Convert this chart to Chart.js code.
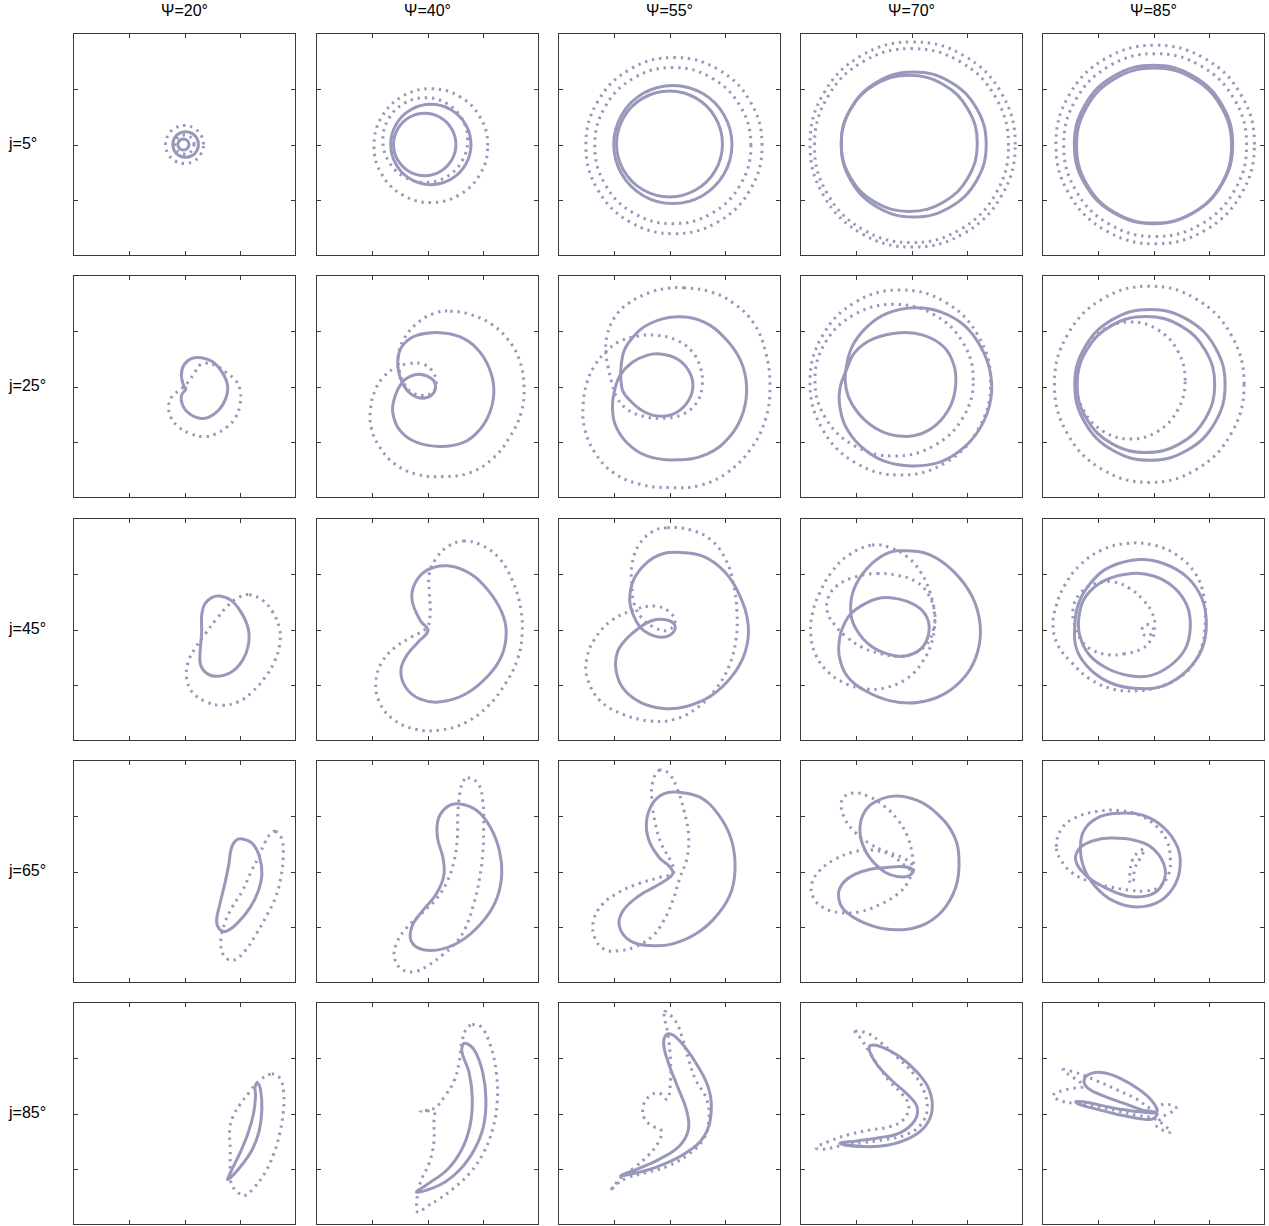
<!DOCTYPE html>
<html>
<head>
<meta charset="utf-8">
<script src="https://cdn.jsdelivr.net/npm/chart.js@4.4.1/dist/chart.umd.min.js"></script>
<style>
    body { margin: 0; background: #fff; font-family: "Liberation Sans", Arial, sans-serif; }
    #page { position: relative; width: 1269px; height: 1226px; }
    .panel { position: absolute; width: 223px; height: 223px; }
    .col-title { position: absolute; top: 1px; width: 223px; text-align: center; font-size: 16px; line-height: 20px; color: #000; }
    .row-title { position: absolute; left: 9px; font-size: 16px; line-height: 20px; color: #000; }
</style>
</head>
<body>
<div id="page"></div>
<script>
// column / row labels and axis ticks (no tick labels in the figure)
const PSI_LABELS = ['Ψ=20°', 'Ψ=40°', 'Ψ=55°', 'Ψ=70°', 'Ψ=85°'];
const J_LABELS = ['j=5°', 'j=25°', 'j=45°', 'j=65°', 'j=85°'];
const TICKS = [-50, 0, 50];

// ---- j = 5 deg ----
const j5p20_s1 = [[12.5,0],[11,5.8],[6.8,10],[1,11.5],[-4.8,10],[-9,5.8],[-10.5,0],[-9,-5.8],[-4.8,-10],[1,-11.5],[6.8,-10],[11,-5.8]];
const j5p20_s2 = [[4,0],[3.3,2.5],[1.5,4.3],[-1,5],[-3.5,4.3],[-5.3,2.5],[-6,0],[-5.3,-2.5],[-3.5,-4.3],[-1,-5],[1.5,-4.3],[3.3,-2.5]];
const j5p20_d1 = [[17,0],[14.7,8.5],[8.5,14.7],[0,17],[-8.5,14.7],[-14.7,8.5],[-17,0],[-14.7,-8.5],[-8.5,-14.7],[0,-17],[8.5,-14.7],[14.7,-8.5]];
const j5p20_d2 = [[8.5,0],[7.4,4.3],[4.3,7.4],[0,8.5],[-4.3,7.4],[-7.4,4.3],[-8.5,0],[-7.4,-4.3],[-4.3,-7.4],[0,-8.5],[4.3,-7.4],[7.4,-4.3]];

const j5p40_s1 = [[39,0],[34.2,18],[21,31.2],[3,36],[-15,31.2],[-28.2,18],[-33,0],[-28.2,-18],[-15,-31.2],[3,-36],[21,-31.2],[34.2,-18]];
const j5p40_s2 = [[25.5,0],[21.7,14],[11.5,24.2],[-2.5,28],[-16.5,24.2],[-26.7,14],[-30.5,0],[-26.7,-14],[-16.5,-24.2],[-2.5,-28],[11.5,-24.2],[21.7,-14]];
const j5p40_d1 = [[54,-1],[47.2,24.5],[28.5,43.2],[3,50],[-22.5,43.2],[-41.2,24.5],[-48,-1],[-41.2,-26.5],[-22.5,-45.2],[3,-52],[28.5,-45.2],[47.2,-26.5]];
const j5p40_d2 = [[36,4],[30.9,23],[17,36.9],[-2,42],[-21,36.9],[-34.9,23],[-40,4],[-34.9,-15],[-21,-28.9],[-2,-34],[17,-28.9],[30.9,-15]];

const j5p55_s1 = [[56,0],[48.9,26.5],[29.5,45.9],[3,53],[-23.5,45.9],[-42.9,26.5],[-50,0],[-42.9,-26.5],[-23.5,-45.9],[3,-53],[29.5,-45.9],[48.9,-26.5]];
const j5p55_s2 = [[47.5,0.5],[41.1,24.3],[23.8,41.6],[0,48],[-23.8,41.6],[-41.1,24.3],[-47.5,0.5],[-41.1,-23.3],[-23.8,-40.6],[0,-47],[23.8,-40.6],[41.1,-23.3]];
const j5p55_d1 = [[83,-1],[72.4,38.5],[43.5,67.4],[4,78],[-35.5,67.4],[-64.4,38.5],[-75,-1],[-64.4,-40.5],[-35.5,-69.4],[4,-80],[43.5,-69.4],[72.4,-40.5]];
const j5p55_d2 = [[73,-1],[63.6,34],[38,59.6],[3,69],[-32,59.6],[-57.6,34],[-67,-1],[-57.6,-36],[-32,-61.6],[3,-71],[38,-61.6],[63.6,-36]];

const j5p70_s1 = [[67,0],[58.3,32.5],[34.5,56.3],[2,65],[-30.5,56.3],[-54.3,32.5],[-63,0],[-54.3,-32.5],[-30.5,-56.3],[2,-65],[34.5,-56.3],[58.3,-32.5]];
const j5p70_s2 = [[59,1],[50.8,31.5],[28.5,53.8],[-2,62],[-32.5,53.8],[-54.8,31.5],[-63,1],[-54.8,-29.5],[-32.5,-51.8],[-2,-60],[28.5,-51.8],[50.8,-29.5]];
const j5p70_d1 = [[93,0],[80.7,46],[47,79.7],[1,92],[-45,79.7],[-78.7,46],[-91,0],[-78.7,-46],[-45,-79.7],[1,-92],[47,-79.7],[80.7,-46]];
const j5p70_d2 = [[87,-1],[75.3,42.5],[43.5,74.3],[0,86],[-43.5,74.3],[-75.3,42.5],[-87,-1],[-75.3,-44.5],[-43.5,-76.3],[0,-88],[43.5,-76.3],[75.3,-44.5]];

const j5p85_s1 = [[71,0],[61.5,35.5],[35.5,61.5],[0,71],[-35.5,61.5],[-61.5,35.5],[-71,0],[-61.5,-35.5],[-35.5,-61.5],[0,-71],[35.5,-61.5],[61.5,-35.5]];
const j5p85_s2 = [[70,-1],[60.7,33.8],[35.3,59.2],[0.5,68.5],[-34.3,59.2],[-59.7,33.8],[-69,-1],[-59.7,-35.8],[-34.3,-61.2],[0.5,-70.5],[35.3,-61.2],[60.7,-35.8]];
const j5p85_d1 = [[90.5,0],[78.6,44.5],[46,77.1],[1.5,89],[-43,77.1],[-75.6,44.5],[-87.5,0],[-75.6,-44.5],[-43,-77.1],[1.5,-89],[46,-77.1],[78.6,-44.5]];
const j5p85_d2 = [[83.5,-0.5],[72.5,40.5],[42.5,70.5],[1.5,81.5],[-39.5,70.5],[-69.5,40.5],[-80.5,-0.5],[-69.5,-41.5],[-39.5,-71.5],[1.5,-82.5],[42.5,-71.5],[72.5,-41.5]];

// ---- j = 25 deg ----
const j25p20_s1 = [[-0.8,0.9],[-2.8,9.9],[-0.8,18.9],[6.1,24.9],[15.4,25.8],[25.6,21.9],[33.7,12.9],[38.6,0.9],[36.9,-11.1],[30.4,-21.6],[21.5,-27.6],[13.4,-28.5],[4.5,-24.6],[-1.6,-17.1],[-2.8,-8.1],[1.2,-2.1]];
const j25p20_d1 = [[18.7,21],[28.8,18.3],[37.7,12.3],[45.9,5.4],[49.9,-3.6],[49.9,-15.6],[45.9,-27.6],[37.7,-36.6],[27.6,-42.6],[17.5,-45],[6.1,-42.6],[-4.9,-36.6],[-12.2,-27.6],[-14.2,-17.1],[-11,-8.7],[-2.8,-2.1],[3.2,3.9],[9.3,12.9],[13.4,18.9]];

const j25p40_s1 = [[11.4,48.3],[29.4,44.4],[44.4,33.9],[55,17.4],[59.5,-2.1],[56.5,-21.6],[47.4,-38.1],[32.4,-50.2],[11.4,-53.8],[-9.6,-50.2],[-24.6,-39.6],[-31.2,-23.1],[-29.1,-8.7],[-23.1,3.3],[-15.6,9],[-6,10.8],[3.9,6.9],[7.2,0],[3.9,-7.5],[-5.1,-10.5],[-15,-6.6],[-22.2,2.4],[-26.1,14.4],[-26.1,27.9],[-21,38.4],[-9.6,45.9]];
const j25p40_d1 = [[20.4,67.6],[38.4,64.6],[56.5,56.5],[71.5,42.9],[82,24.9],[86.5,0.9],[84.1,-23.1],[74.5,-44.1],[59.5,-63.7],[38.4,-77.2],[14.4,-80.8],[-9.6,-78.7],[-29.1,-69.7],[-42.6,-54.7],[-50.2,-38.1],[-51.1,-20.1],[-47.1,-3.6],[-39.6,8.4],[-29.1,16.5],[-17.1,20.4],[-5.1,20.4],[3.9,14.4],[7.8,3.9],[5.4,-4.5],[-3.6,-8.1],[-14.1,-5.1],[-21,2.4],[-25.2,14.4],[-26.1,27.9],[-21,42.9],[-9.6,56.5],[5.4,65.5]];

const j25p55_s1 = [[-42,27.9],[-33.9,42.9],[-17.4,56.5],[7.2,62.5],[30.6,58],[50.2,42.9],[63.7,23.4],[69.1,0.9],[66.1,-23.1],[54.7,-44.1],[33.6,-60.7],[6,-65.8],[-20.4,-62.2],[-38.4,-50.2],[-48.9,-33.6],[-51.1,-17.1],[-48.9,-2.1],[-44.4,9.9],[-33.9,21.3],[-20.4,27.9],[-8.4,29.1],[6.6,24.9],[17.1,14.4],[21,0.9],[17.1,-12.6],[6.6,-23.1],[-6.9,-26.7],[-21.9,-23.1],[-35.4,-12.6],[-42.9,-0.6]];
const j25p55_d1 = [[12.6,88.6],[36.6,85],[57.7,74.5],[75.7,56.5],[86.2,30.9],[90.1,0.9],[86.2,-29.1],[72.7,-56.2],[51.7,-77.2],[27.6,-88.6],[0.6,-90.7],[-26.4,-87.7],[-50.5,-77.2],[-67,-59.2],[-76,-38.1],[-77.5,-17.1],[-73.9,3.9],[-67,18.9],[-57.9,30.3],[-45.9,39.9],[-29.4,45],[-11.4,45.9],[6.6,41.4],[20.1,31.5],[27.6,17.4],[29.4,0.9],[24.6,-14.1],[12.6,-24.6],[-5.4,-28.5],[-23.4,-26.7],[-38.4,-20.1],[-47.4,-9.6],[-51.9,3.9],[-55,17.4],[-57.1,30.9],[-55.9,45.9],[-48.9,62.5],[-36.9,74.5],[-17.4,84.4],[-2.4,88]];

const j25p70_s1 = [[-59.2,12.9],[-53.5,35.4],[-39.9,53.5],[-21.9,65.5],[2.1,70.6],[26.1,67],[47.1,55],[62.2,35.4],[70.6,12.9],[71.2,-11.1],[62.8,-35.1],[47.1,-54.7],[26.1,-67.6],[0.6,-71.2],[-24.9,-66.7],[-45.9,-53.2],[-59.5,-35.1],[-64.6,-15.6],[-64,-0.6],[-59.2,12.9],[-50.5,30.9],[-33.9,42.9],[-9.9,48.3],[11.1,45.9],[29.1,35.4],[38.1,18.9],[39.6,0.9],[35.1,-17.1],[23.1,-33.6],[8.1,-42.6],[-6.9,-44.7],[-24.9,-41.1],[-41.4,-30.6],[-53.5,-15.6],[-58.6,-2.1]];
const j25p70_d1 = [[71,3.6],[60.1,45.1],[30.5,75.5],[-10,86.6],[-50.5,75.5],[-80.1,45.1],[-91,3.6],[-80.1,-37.9],[-50.5,-68.3],[-10,-79.4],[30.5,-68.3],[60.1,-37.9]];
const j25p70_d2 = [[55.4,5.7],[45.9,39.7],[19.9,64.6],[-15.6,73.7],[-51.1,64.6],[-77.1,39.7],[-86.6,5.7],[-77.1,-28.3],[-51.1,-53.2],[-15.6,-62.3],[19.9,-53.2],[45.9,-28.3]];

const j25p85_s1 = [[64.2,1.5],[55.2,35.3],[30.5,60],[-3.2,69.1],[-36.9,60],[-61.6,35.3],[-70.6,1.5],[-61.6,-32.3],[-36.9,-57],[-3.2,-66.1],[30.5,-57],[55.2,-32.3]];
const j25p85_s2 = [[54.9,1.8],[46.6,32.3],[24.1,54.6],[-6.8,62.8],[-37.7,54.6],[-60.2,32.3],[-68.5,1.8],[-60.2,-28.7],[-37.7,-51],[-6.8,-59.2],[24.1,-51],[46.6,-28.7]];
const j25p85_d1 = [[81.2,2],[69.8,46],[38.7,78.2],[-3.8,90],[-46.3,78.2],[-77.4,46],[-88.8,2],[-77.4,-42],[-46.3,-74.2],[-3.8,-86],[38.7,-74.2],[69.8,-42]];
const j25p85_d2 = [[28.4,5.4],[21.8,31.7],[3.9,50.9],[-20.6,57.9],[-45.1,50.9],[-63,31.7],[-69.6,5.4],[-63,-20.9],[-45.1,-40.1],[-20.6,-47.1],[3.9,-40.1],[21.8,-20.9]];

// ---- j = 45 deg ----
const j45p20_s1 = [[31.7,30],[41.8,26.1],[50.7,15.6],[57.2,0.6],[57.2,-14.4],[51.9,-27.9],[41.8,-38.4],[28.8,-42],[19.5,-39],[14.2,-30.9],[14.2,-17.4],[15.4,-2.4],[15.4,12.6],[18.3,23.1],[24.8,28.8]];
const j45p20_d1 = [[58,31.2],[70.2,26.1],[79.1,15.6],[85.2,0.6],[85.2,-14.4],[80.4,-29.4],[72.2,-42.9],[60.1,-56.5],[47.9,-64.9],[33.7,-67.9],[19.5,-64.9],[7.3,-56.5],[2,-44.4],[3.2,-29.4],[10.1,-15.9],[18.7,-3.9],[28.8,9.6],[39.8,22.2],[49.1,29.1]];

const j45p40_s1 = [[17.9,57.1],[38.1,50.2],[54.4,35.1],[66.6,15.6],[70.6,-2.4],[66.6,-23.4],[54.4,-41.4],[34.1,-57.9],[11.8,-64.9],[-6.5,-62.5],[-19.5,-52],[-23.9,-36.9],[-18.7,-23.4],[-8.5,-11.4],[0.4,-0.9],[-6.5,8.1],[-13.8,26.1],[-11.4,41.1],[-0.4,53.2]];
const j45p40_d1 = [[32.1,79.3],[48.3,75.7],[64.5,63.7],[76.7,42.6],[83.6,18.6],[84.8,-5.4],[80.8,-26.4],[70.6,-47.4],[54.4,-68.5],[34.1,-83.5],[11.8,-90.1],[-10.6,-89.5],[-30.8,-80.5],[-43,-65.5],[-46.3,-47.4],[-41,-29.4],[-28.8,-15.9],[-14.6,-6.9],[-0.4,2.1],[2.4,15.6],[1.6,33.6],[1.6,50.2],[7.7,63.7],[17.9,74.2]];

const j45p55_s1 = [[10.1,69.1],[31.3,65.2],[49.5,51.7],[62.9,30.6],[70.6,3.6],[67.8,-20.4],[56.4,-41.4],[37.3,-59.5],[15,-69.1],[-5.3,-70.9],[-25.6,-65.5],[-41,-53.5],[-47.9,-36.9],[-46.7,-20.4],[-38.6,-8.4],[-27.6,1.2],[-15.4,8.1],[-3.2,8.7],[4.9,3.6],[2,-3.9],[-7.3,-6.9],[-18.3,-3.9],[-26.4,2.1],[-32.9,14.1],[-35.7,27.6],[-31.7,45.6],[-19.5,60.7],[-5.3,68.2]];
const j45p55_d1 = [[-2,91.3],[19.1,89.2],[37.3,80.2],[50.7,62.2],[57.6,39.6],[60.5,15.6],[59.7,-8.4],[53.6,-32.4],[41.4,-53.5],[25.2,-70],[4.9,-80.5],[-17.5,-82],[-41.8,-76],[-62.1,-64],[-73.5,-44.4],[-74.3,-26.4],[-67,-8.4],[-51.9,8.1],[-30.4,18],[-13.4,21],[-0.4,16.2],[4.9,6.6],[-2,-0.9],[-14.2,2.1],[-24.8,10.2],[-31.7,23.1],[-33.7,39.6],[-33.7,57.7],[-27.6,75.7],[-15.4,87.7]];

const j45p70_s1 = [[-54.4,14.1],[-52,35.1],[-39.9,54.7],[-21.9,68.2],[-3.9,70.6],[17.1,66.7],[38.1,51.7],[54.7,29.1],[61.6,3.6],[59.2,-20.4],[48.6,-41.4],[29.1,-58],[5.1,-65.5],[-18.9,-64],[-41.4,-55],[-58,-41.4],[-64.9,-23.4],[-64,-5.4],[-59.5,6.6],[-54.4,14.1],[-44.4,21.6],[-30.9,27.6],[-18.9,28.5],[-3.9,25.2],[9.6,17.1],[15.6,5.1],[14.1,-8.4],[6.6,-18.9],[-6.9,-24],[-21.9,-21.9],[-36.9,-14.4],[-48.9,-0.9]];
const j45p70_d1 = [[-35.4,75.7],[-18.9,73.3],[-3.9,65.2],[8.1,51.7],[16.5,33.6],[20.7,12.6],[18.6,-9.9],[9.6,-29.4],[-3.9,-43.8],[-21.9,-52],[-39.9,-53.5],[-58,-48.9],[-74.5,-38.4],[-85.6,-23.4],[-90.4,-3.9],[-88.6,15.6],[-82,33.6],[-71.5,51.7],[-56.5,66.7]];
const j45p70_d2 = [[-30.9,50.2],[-12.9,48.6],[3.6,43.2],[14.7,32.1],[20.7,15.6],[19.5,-0.9],[12.6,-14.4],[0.6,-21.9],[-12.9,-24],[-29.4,-21.3],[-44.4,-15.9],[-58,-6.9],[-68.5,3.6],[-75.4,15.6],[-74.5,29.1],[-65.5,40.2],[-50.5,47.1]];

const j45p85_s1 = [[-12.6,62.8],[9,59.2],[30,47.1],[43.5,27.6],[47.4,5.1],[43.5,-17.4],[30,-36.9],[9,-50.5],[-13.5,-52.9],[-36,-48.9],[-55.6,-36.9],[-68.5,-18.9],[-70.6,3.6],[-66.7,24.6],[-55.6,42.6],[-39,56.2]];
const j45p85_s2 = [[-19.5,50.2],[0,48],[18,38.1],[30,21.6],[33,2.1],[28.5,-17.4],[15,-32.4],[-3,-41.4],[-21,-41.4],[-40.5,-35.4],[-57.1,-23.4],[-66.1,-5.4],[-66.7,12.6],[-60.1,30.6],[-43.5,44.1]];
const j45p85_d1 = [[-24,77.2],[0,75.7],[21,66.7],[37.5,50.2],[45,30.6],[46.5,9.6],[43.5,-14.4],[34.5,-32.4],[21,-44.4],[3,-52],[-15,-55],[-36,-53.5],[-57.1,-44.4],[-73.6,-29.4],[-85.6,-14.4],[-90.1,3.6],[-87.1,21.6],[-79.6,39.6],[-66.1,57.7],[-46.5,71.2]];
const j45p85_d2 = [[-27,-21.9],[-10.5,-17.4],[-1.5,-8.4],[0.5,-2],[-3,4],[-9,3],[-10,-3],[-5,-6],[0,-1],[1.5,3.6],[-1.5,15.6],[-9,26.1],[-21,36.6],[-36,42.6],[-52.6,41.1],[-66.1,32.1],[-72.1,18.6],[-70.6,3.6],[-64.6,-9.9],[-54.1,-18.9],[-39,-22.8]];

// ---- j = 65 deg ----
const j65p20_s1 = [[51.9,29.1],[61.3,24.6],[67.4,12.6],[69.4,-2.4],[66.2,-17.4],[58.8,-32.4],[47.9,-45.9],[37.7,-53.5],[31.7,-52],[28.8,-44.4],[31.7,-29.4],[35.7,-12.9],[39.8,6.6],[41.8,20.1],[45.9,27.6]];
const j65p20_d1 = [[81.6,36],[87.3,29.1],[88.5,12.6],[86.4,-5.4],[81.6,-23.4],[74.3,-38.4],[64.1,-56.5],[54,-71.5],[43.8,-79.6],[35.7,-76],[32.5,-64],[35.7,-47.4],[42.6,-32.4],[51.9,-17.4],[60.1,0.6],[66.2,12.6],[72.2,26.1],[77.5,34.2]];

const j65p40_s1 = [[28,60.7],[44.2,54.7],[56.4,39.6],[64.5,18.6],[66.6,-2.4],[62.5,-23.4],[52.4,-41.4],[34.1,-59.5],[13.8,-69.4],[-4.5,-70],[-14.6,-62.5],[-13.8,-48.9],[-4.5,-35.4],[7.7,-20.4],[14.6,-3.9],[13.8,12.6],[8.9,30.6],[9.7,47.1],[17.9,58.3]];
const j65p40_d1 = [[36.1,84.1],[45.5,78.7],[49.5,63.7],[50.3,39.6],[49.5,15.6],[46.3,-8.4],[41.4,-29.4],[34.1,-50.5],[25.2,-64],[13.8,-74.5],[1.6,-83.5],[-10.6,-89.5],[-22.7,-88],[-29.6,-77.5],[-27.6,-64],[-18.7,-50.5],[-4.5,-36.9],[8.9,-23.4],[17.9,-8.4],[23.9,9.6],[26.8,30.6],[27.2,51.7],[29.2,71.2],[32.5,81.7]];

const j65p55_s1 = [[6.9,71.2],[27.2,66.7],[43.4,51.7],[54.8,30.6],[58.8,6.6],[55.6,-17.4],[43.4,-38.4],[25.2,-55],[2.8,-64.9],[-17.5,-66.4],[-35.7,-61.9],[-45,-48.9],[-41.8,-35.4],[-27.6,-21.9],[-9.3,-11.4],[2.8,-2.4],[0.8,3.6],[-9.3,12.6],[-18.3,27.6],[-20.7,44.1],[-15.4,60.7],[-5.3,69.7]];
const j65p55_d1 = [[-9.3,90.7],[-0.4,87.7],[6.9,74.2],[13,54.7],[17,33.6],[15.8,12.6],[8.9,-6.9],[2.8,-26.4],[-5.3,-44.4],[-15.4,-58],[-29.6,-67],[-43.8,-70.9],[-58,-70],[-67,-59.5],[-68.2,-44.4],[-60.1,-29.4],[-45.9,-18.9],[-27.6,-10.8],[-9.3,-5.4],[3.7,-0.9],[0.8,9.6],[-7.3,24.6],[-12.6,42.6],[-15.4,60.7],[-15.4,78.7]];

const j65p70_s1 = [[-15.9,67.6],[5.1,63.7],[23.1,51.7],[38.1,32.1],[42.6,9.6],[39.6,-14.4],[27.6,-35.4],[8.1,-48.9],[-18.9,-52],[-42.9,-45.9],[-61,-33.9],[-65.5,-20.4],[-61,-9.9],[-50.5,-2.4],[-36.9,2.1],[-21.9,3.6],[-6.9,4.2],[1.5,1.2],[-2.4,-3.9],[-12.9,-4.5],[-23.4,-0.9],[-32.4,6.6],[-40.5,17.1],[-45.9,32.1],[-44.4,48.6],[-35.4,60.7]];
const j65p70_d1 = [[1.5,0.6],[0.6,15.6],[-3.9,32.1],[-12.3,46.2],[-23.4,57.7],[-38.4,67.3],[-53.5,70.3],[-62.5,63.7],[-60.4,48.6],[-50.5,35.1],[-36.9,24.6],[-23.4,18],[-8.4,12.6],[0.6,5.1],[-3.9,-10.8],[-13.5,-21],[-27.9,-29.4],[-45.9,-36],[-64,-36.9],[-79,-32.4],[-88,-23.4],[-89.5,-11.4],[-82.6,0.6],[-70,10.2],[-53.5,17.1],[-35.4,19.2],[-18.9,15],[-5.4,5.1]];

const j65p85_s1 = [[-30,52.3],[-9,50.2],[9,39.6],[21,23.1],[24,6.6],[19.5,-11.4],[6,-26.4],[-15,-31.8],[-36,-26.4],[-52.6,-12.9],[-62.5,3.6],[-65.5,21],[-61.6,38.1],[-48,49.2]];
const j65p85_s2 = [[-39,30],[-18,28.2],[0,20.1],[10.5,2.1],[6,-14.4],[-6,-21.9],[-24,-21.9],[-43.5,-14.4],[-60.1,-3.9],[-69.7,9.6],[-66.1,21],[-54.1,27.6]];
const j65p85_d1 = [[-87.1,22.2],[-82.6,38.1],[-70.6,48],[-51.1,53.8],[-30,54.7],[-12,50.2],[3,40.2],[12,27.6],[15,12.6],[13.5,-2.4],[5.4,-13.8],[-7.5,-17.4],[-21,-16.8],[-39,-13.8],[-57.1,-9],[-72.1,-1.8],[-82.6,9.6]];
const j65p85_d2 = [[-21,-10],[-21,0],[-19,10],[-14,17],[-8,20],[-12,12],[-17,2],[-18,-8]];

// ---- j = 85 deg ----
const j85p20_s1 = [[65.3,27.3],[68.2,21.3],[69.4,3.9],[67,-15.6],[60.9,-32.1],[50.7,-47.1],[39,-59.2],[41.8,-51.7],[49.9,-35.1],[57.2,-17.1],[62.1,0.9],[63.7,15.9],[63.3,23.4]];
const j85p20_d1 = [[78.3,35.4],[85.6,31.5],[88.9,18.9],[88.5,0.9],[85.6,-17.1],[80.4,-35.1],[72.2,-53.2],[62.1,-66.7],[54,-73.6],[46.7,-69.7],[41.8,-62.2],[41,-50.2],[41,-32.1],[40.6,-14.1],[43.8,-2.1],[49.9,8.4],[58,18.9],[67,29.4]];

const j85p40_s1 = [[33.3,63.1],[42.2,56.5],[49.5,36.9],[52.4,12.9],[50.3,-11.1],[42.2,-32.1],[29.2,-50.2],[11.8,-63.7],[-9.7,-70.6],[-0.4,-63.7],[17.9,-50.2],[30.8,-32.1],[38.1,-11.1],[40.2,12.9],[37.3,36.9],[30.8,55.6]];
const j85p40_d1 = [[40.2,79.6],[48.3,77.5],[56.4,61],[61.7,36.9],[62.5,9.9],[58.4,-14.1],[50.3,-35.1],[38.1,-53.2],[23.9,-66.7],[9.7,-77.2],[-0.4,-83.2],[-8.5,-88.6],[-9.7,-80.2],[-6.5,-62.2],[1.6,-44.1],[5.7,-26.1],[5.7,-8.1],[5.7,0.9],[-6.5,2.4],[5.7,4.5],[15.8,15.9],[23.9,29.4],[28.4,45.9],[30.8,64],[34.9,76]];

const j85p55_s1 = [[-1.2,71.5],[8.9,65.5],[25.2,42.9],[35.3,21.9],[37.3,0.9],[31.3,-20.1],[15,-35.1],[-9.3,-47.1],[-29.6,-53.2],[-43.8,-55.6],[-29.6,-50.2],[-9.3,-41.1],[8.9,-29.1],[17,-14.1],[15,3.9],[6.9,24.9],[-1.2,45.9],[-5.3,64]];
const j85p55_d1 = [[-4.5,91],[4.9,83.5],[11.8,67],[17,48.9],[23.1,30.9],[33.3,12.9],[35.3,-5.1],[30.4,-23.1],[17,-36.6],[-1.2,-47.1],[-21.5,-53.2],[-37.7,-57.7],[-47.9,-63.7],[-53.2,-69.7],[-43.8,-57.7],[-31.7,-48.6],[-19.5,-38.1],[-10.1,-26.1],[-7.3,-15.6],[-14.2,-11.7],[-22.3,-5.1],[-23.5,6.9],[-17.5,15.9],[-9.3,18.3],[-2,12.9],[0.8,27.9],[0.8,48.9],[-1.2,70]];

const j85p70_s1 = [[-36.9,61],[-26.4,59.5],[-9.9,50.5],[5.1,36.9],[15.6,21.9],[18.6,3.9],[12.6,-11.1],[-0.9,-21.6],[-21.9,-28.5],[-42.9,-29.7],[-64,-26.7],[-48.9,-24.6],[-27.9,-21.6],[-9.9,-17.1],[2.7,-6.6],[5.1,5.4],[-2.4,15.9],[-17.4,29.4],[-30.3,42.9],[-37.5,55.6]];
const j85p70_d1 = [[-50.5,73.6],[-38.4,71.5],[-27.9,64],[-12.9,50.5],[2.1,35.4],[11.1,20.4],[14.1,3.9],[8.7,-9.6],[-3.9,-18.6],[-21.9,-23.1],[-42.9,-26.1],[-64,-29.1],[-79,-32.1],[-85.6,-30.6],[-73,-24.6],[-55,-18.6],[-36.9,-14.7],[-18.9,-11.7],[-6.9,-5.1],[-2.4,6.9],[-8.4,17.4],[-18.9,27.9],[-27.9,39.9],[-36.9,53.5],[-45.3,67]];

const j85p85_s1 = [[3,1.5],[-1.5,11.4],[-13.5,21.9],[-28.5,30.9],[-43.5,36.3],[-55.6,36],[-62.2,30.3],[-58.6,22.5],[-45,15.9],[-27,9.3],[-10.5,3.3],[3,0.3],[-1.5,-5.1],[-15,-4.2],[-33,-0.6],[-51.1,3.9],[-66.1,8.1],[-69.7,10.5],[-63.1,10.5],[-48,7.5],[-30,3.9],[-12,1.5]];
const j85p85_d1 = [[-81.1,39],[-67.6,36],[-51.1,29.4],[-33,21.3],[-15,12.9],[-1.5,4.5],[10.5,8.4],[20.4,4.5],[7.5,-3.6],[3,-11.7],[15.6,-16.5],[1.5,-5.1],[-15,-1.5],[-33,2.4],[-51.1,6.3],[-69.1,9],[-83.5,11.4],[-90.1,16.5],[-76.6,21.9],[-63.1,24.9]];

const PANELS = [
    [
        { solid: [j5p20_s1, j5p20_s2], dotted: [j5p20_d1, j5p20_d2] },
        { solid: [j5p40_s1, j5p40_s2], dotted: [j5p40_d1, j5p40_d2] },
        { solid: [j5p55_s1, j5p55_s2], dotted: [j5p55_d1, j5p55_d2] },
        { solid: [j5p70_s1, j5p70_s2], dotted: [j5p70_d1, j5p70_d2] },
        { solid: [j5p85_s1, j5p85_s2], dotted: [j5p85_d1, j5p85_d2] },
    ],
    [
        { solid: [j25p20_s1], dotted: [j25p20_d1] },
        { solid: [j25p40_s1], dotted: [j25p40_d1] },
        { solid: [j25p55_s1], dotted: [j25p55_d1] },
        { solid: [j25p70_s1], dotted: [j25p70_d1, j25p70_d2] },
        { solid: [j25p85_s1, j25p85_s2], dotted: [j25p85_d1, j25p85_d2] },
    ],
    [
        { solid: [j45p20_s1], dotted: [j45p20_d1] },
        { solid: [j45p40_s1], dotted: [j45p40_d1] },
        { solid: [j45p55_s1], dotted: [j45p55_d1] },
        { solid: [j45p70_s1], dotted: [j45p70_d1, j45p70_d2] },
        { solid: [j45p85_s1, j45p85_s2], dotted: [j45p85_d1, j45p85_d2] },
    ],
    [
        { solid: [j65p20_s1], dotted: [j65p20_d1] },
        { solid: [j65p40_s1], dotted: [j65p40_d1] },
        { solid: [j65p55_s1], dotted: [j65p55_d1] },
        { solid: [j65p70_s1], dotted: [j65p70_d1] },
        { solid: [j65p85_s1, j65p85_s2], dotted: [j65p85_d1, j65p85_d2] },
    ],
    [
        { solid: [j85p20_s1], dotted: [j85p20_d1] },
        { solid: [j85p40_s1], dotted: [j85p40_d1] },
        { solid: [j85p55_s1], dotted: [j85p55_d1] },
        { solid: [j85p70_s1], dotted: [j85p70_d1] },
        { solid: [j85p85_s1], dotted: [j85p85_d1] },
    ],
];

const LINE_COLOR = '#9898bb';
const COL_LEFT = [73, 316, 558, 800, 1042];
const ROW_TOP = [33, 275, 518, 760, 1002];

/**
 * Closed curve: pad with the neighbours on both ends so the spline is smooth
 * at the seam, and hide the two padding segments.
 */
function closedDataset(pts, dotted) {
    const n = pts.length;
    const seq = [pts[n - 1], ...pts, pts[0], pts[1]];
    const data = seq.map(p => ({ x: p[0], y: p[1] }));
    const last = data.length - 2;
    return {
        data: data,
        showLine: true,
        borderColor: LINE_COLOR,
        borderWidth: dotted ? 3 : 3,
        borderDash: dotted ? [2.4, 4.8] : [],
        pointRadius: 0,
        tension: 0.4,
        segment: {
            borderColor: ctx => (ctx.p0DataIndex === 0 || ctx.p0DataIndex === last) ? 'rgba(0,0,0,0)' : undefined,
        },
    };
}

// frame with inward ticks on all four sides
const framePlugin = {
    id: 'frame',
    afterDraw(chart) {
        const { ctx, chartArea: a, scales } = chart;
        ctx.save();
        ctx.strokeStyle = '#3a3a3a';
        ctx.lineWidth = 1;
        ctx.strokeRect(a.left + 0.5, a.top + 0.5, a.right - a.left - 1, a.bottom - a.top - 1);
        ctx.beginPath();
        const len = 5;
        TICKS.forEach(t => {
            const x = Math.round(scales.x.getPixelForValue(t)) + 0.5;
            const y = Math.round(scales.y.getPixelForValue(t)) + 0.5;
            ctx.moveTo(x, a.top); ctx.lineTo(x, a.top + len);
            ctx.moveTo(x, a.bottom); ctx.lineTo(x, a.bottom - len);
            ctx.moveTo(a.left, y); ctx.lineTo(a.left + len, y);
            ctx.moveTo(a.right, y); ctx.lineTo(a.right - len, y);
        });
        ctx.stroke();
        ctx.restore();
    }
};

const page = document.getElementById('page');

PSI_LABELS.forEach((txt, c) => {
    const el = document.createElement('div');
    el.className = 'col-title';
    el.style.left = COL_LEFT[c] + 'px';
    el.textContent = txt;
    page.appendChild(el);
});

J_LABELS.forEach((txt, r) => {
    const el = document.createElement('div');
    el.className = 'row-title';
    el.style.top = (ROW_TOP[r] + 111 - 10) + 'px';
    el.textContent = txt;
    page.appendChild(el);
});

PANELS.forEach((row, r) => {
    row.forEach((panel, c) => {
        const box = document.createElement('div');
        box.className = 'panel';
        box.style.left = COL_LEFT[c] + 'px';
        box.style.top = ROW_TOP[r] + 'px';
        const canvas = document.createElement('canvas');
        box.appendChild(canvas);
        page.appendChild(box);

        const datasets = [
            ...panel.dotted.map(p => closedDataset(p, true)),
            ...panel.solid.map(p => closedDataset(p, false)),
        ];

        new Chart(canvas, {
            type: 'scatter',
            data: { datasets },
            options: {
                responsive: true,
                maintainAspectRatio: false,
                animation: false,
                layout: { padding: 0 },
                plugins: { legend: { display: false }, tooltip: { enabled: false } },
                scales: {
                    x: { type: 'linear', min: -100, max: 100, display: false },
                    y: { type: 'linear', min: -100, max: 100, display: false },
                },
            },
            plugins: [framePlugin],
        });
    });
});
</script>
</body>
</html>
